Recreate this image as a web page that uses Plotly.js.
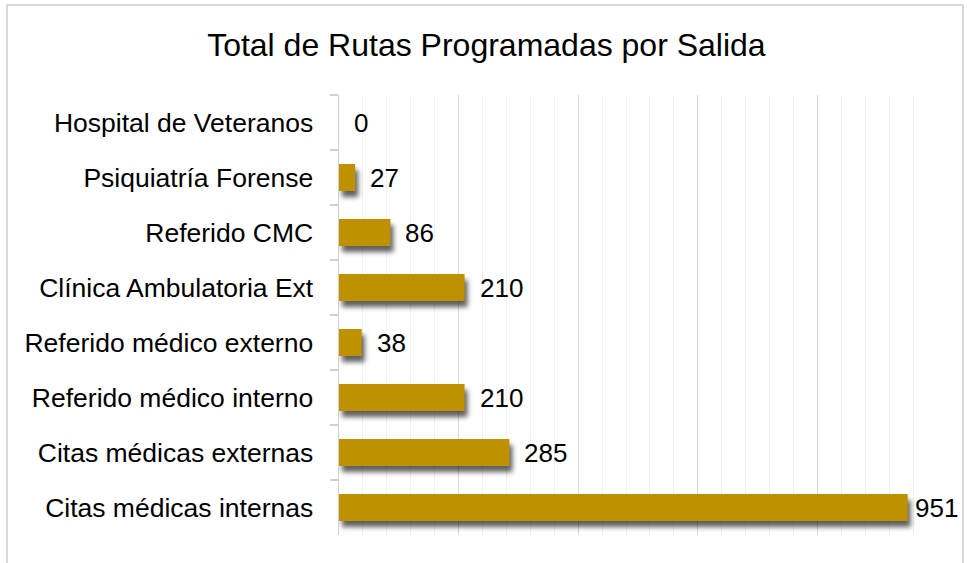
<!DOCTYPE html>
<html>
<head>
<meta charset="utf-8">
<script src="https://cdn.plot.ly/plotly-3.0.1.min.js"></script>
<style>
  html, body { margin: 0; padding: 0; background: #fff; }
  #wrap { position: relative; width: 967px; height: 563px; overflow: hidden; }
  #chart { width: 967px; height: 563px; }
  #frame { position: absolute; left: 6px; top: 4px; width: 958px; height: 600px;
           border: 2px solid #d9d9d9; box-sizing: border-box; pointer-events: none; }
  .barlayer .point path { filter: drop-shadow(3px 6px 2.5px rgba(0,0,0,0.62)); }
</style>
</head>
<body>
<div id="wrap">
  <div id="chart"></div>
  <div id="frame"></div>
</div>
<script>
const categories = [
  "Hospital de Veteranos",
  "Psiquiatría Forense",
  "Referido CMC",
  "Clínica Ambulatoria Ext",
  "Referido médico externo",
  "Referido médico interno",
  "Citas médicas externas",
  "Citas médicas internas"
];
const values = [0, 27, 86, 210, 38, 210, 285, 951];
const chartTitle = "Total de Rutas Programadas por Salida";

const FONT = "Liberation Sans, Arial, sans-serif";

const trace = {
  type: "bar",
  orientation: "h",
  x: values,
  y: categories,
  marker: { color: "#BF9000", line: { width: 0 } },
  width: 0.49,
  hoverinfo: "x+y"
};

const annotations = categories.map((c, i) => ({
  x: values[i],
  y: c,
  xref: "x",
  yref: "y",
  text: String(values[i]),
  showarrow: false,
  xanchor: "left",
  yanchor: "middle",
  xshift: values[i] > 900 ? 5 : 13,
  font: { family: FONT, size: 26, color: "#000" }
}));

const layout = {
  width: 967,
  height: 563,
  margin: { l: 339, r: 30, t: 95, b: 28, pad: 0 },
  paper_bgcolor: "rgba(0,0,0,0)",
  plot_bgcolor: "#fff",
  showlegend: false,
  title: {
    text: chartTitle,
    font: { family: FONT, size: 32, color: "#000" },
    x: 0.503, xref: "container", xanchor: "center",
    y: 1 - 45 / 563, yref: "container", yanchor: "middle"
  },
  xaxis: {
    range: [0, 1000],
    dtick: 200,
    tick0: 0,
    showgrid: true,
    gridcolor: "#d9d9d9",
    gridwidth: 1,
    minor: { dtick: 40, showgrid: true, gridcolor: "#f0f0f0", gridwidth: 1 },
    showticklabels: false,
    ticks: "",
    zeroline: false,
    showline: false,
    fixedrange: true
  },
  yaxis: {
    autorange: "reversed",
    showline: true,
    linecolor: "#d0d0d0",
    linewidth: 1.5,
    ticks: "outside",
    tickson: "boundaries",
    ticklen: 8,
    tickcolor: "#d0d0d0",
    tickwidth: 1.5,
    ticklabelstandoff: 19,
    tickfont: { family: FONT, size: 26.5, color: "#000" },
    showgrid: false,
    zeroline: false,
    fixedrange: true
  },
  annotations: annotations
};

Plotly.newPlot("chart", [trace], layout, { displayModeBar: false, staticPlot: true });
</script>
</body>
</html>
